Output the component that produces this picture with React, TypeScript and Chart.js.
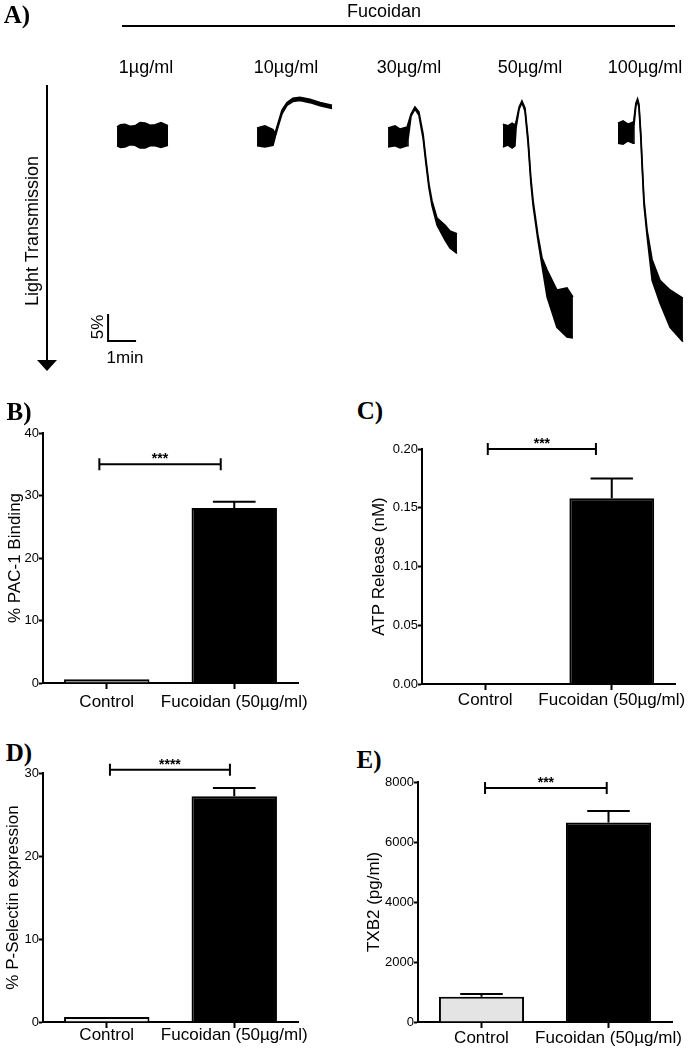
import React, { useEffect, useRef } from 'react';
import { Chart, registerables } from 'chart.js';

Chart.register(...registerables);

const FONT = "'Liberation Sans', Arial, Helvetica, sans-serif";
const SERIF = "'Liberation Serif', 'Times New Roman', serif";
Chart.defaults.color = '#000';
Chart.defaults.font.family = FONT;

// ---------- Panel A: aggregation traces (time in min, light transmission in %) ----------
const doseLabels = ['1µg/ml', '10µg/ml', '30µg/ml', '50µg/ml', '100µg/ml'];

const trace1Time = [4.18, 4.3, 4.46, 4.64, 4.82, 5.0, 5.18, 5.36, 5.54, 5.75, 6.0];
const trace1Upper = [-1.5, -1.9, -2.0, -1.6, -1.7, -2.3, -2.2, -1.8, -1.9, -2.3, -1.7];
const trace1Lower = [2.0, 2.3, 2.2, 1.8, 1.9, 2.4, 2.4, 2.0, 2.0, 2.3, 1.9];

const trace2Time = [9.18, 9.46, 9.75, 9.82, 9.93, 10.07, 10.25, 10.46, 10.71, 11.07, 11.43, 11.86];
const trace2Upper = [-1.3, -1.7, -1.0, -0.3, -2.2, -4.6, -6.0, -6.8, -7.0, -6.6, -6.0, -5.5];
const trace2Lower = [2.0, 2.2, 1.9, 0.5, -1.5, -3.9, -5.5, -6.2, -6.4, -6.0, -5.4, -4.9];

const trace3Time = [13.86, 14.11, 14.29, 14.54, 14.57, 14.68, 14.82, 14.96, 15.11, 15.21, 15.32, 15.43, 15.61, 15.89, 16.07, 16.32];
const trace3Upper = [-1.3, -1.7, -1.1, -1.5, -1.5, -3.9, -5.2, -4.3, -0.2, 4.4, 9.1, 12.2, 15.4, 16.7, 17.8, 18.3];
const trace3Lower = [2.2, 2.0, 2.4, 2.0, 0.9, -3.5, -4.8, -3.7, 0.6, 5.2, 9.8, 13.1, 16.7, 19.4, 20.9, 21.9];

const trace4Time = [17.96, 18.14, 18.29, 18.39, 18.43, 18.54, 18.64, 18.75, 18.86, 18.96, 19.04, 19.21, 19.36, 19.54, 19.89, 20.25, 20.46];
const trace4Upper = [-2.0, -1.7, -2.2, -1.85, -2.4, -5.2, -6.3, -5.0, 0.6, 8.0, 12.2, 18.5, 22.8, 25.0, 28.7, 28.3, 30.0];
const trace4Lower = [2.2, 1.85, 2.4, 2.0, -1.3, -4.8, -6.0, -4.4, 1.5, 8.9, 13.1, 19.4, 24.3, 30.0, 35.6, 37.4, 37.6];

const trace5Time = [22.07, 22.25, 22.43, 22.61, 22.64, 22.71, 22.77, 22.82, 22.89, 22.93, 23.0, 23.11, 23.29, 23.57, 23.93, 24.39];
const trace5Upper = [-2.2, -2.6, -2.0, -2.4, -2.8, -5.9, -6.7, -5.7, 0.0, 4.6, 12.0, 17.6, 23.1, 26.9, 28.7, 30.2];
const trace5Lower = [1.5, 1.7, 1.1, 1.5, -1.7, -5.4, -6.3, -5.1, 0.9, 5.6, 13.0, 18.7, 26.9, 31.1, 35.6, 38.3];

// scale bar: 1 min horizontal, 5 % vertical
const scaleBarMinutes = 1;
const scaleBarPercent = 5;

// ---------- Panels B–E: bar charts ----------
const categories = ['Control', 'Fucoidan (50µg/ml)'];

const pac1Values = [0.6, 28.0];
const pac1Errors = [0, 1.0];
const pac1Ticks = [0, 10, 20, 30, 40];

const atpValues = [0.0004, 0.158];
const atpErrors = [0, 0.017];
const atpTicks = [0, 0.05, 0.1, 0.15, 0.2];

const pselValues = [0.6, 27.2];
const pselErrors = [0, 1.0];
const pselTicks = [0, 10, 20, 30];

const txb2Values = [840, 6650];
const txb2Errors = [90, 380];
const txb2Ticks = [0, 2000, 4000, 6000, 8000];

function toPoints(t: number[], v: number[]) {
  return t.map((x, i) => ({ x, y: v[i] }));
}

function TracePanel() {
  const ref = useRef<HTMLCanvasElement>(null);
  useEffect(() => {
    const traces = [
      [trace1Time, trace1Upper, trace1Lower],
      [trace2Time, trace2Upper, trace2Lower],
      [trace3Time, trace3Upper, trace3Lower],
      [trace4Time, trace4Upper, trace4Lower],
      [trace5Time, trace5Upper, trace5Lower],
    ];
    const datasets: any[] = [];
    traces.forEach(([t, hi, lo]) => {
      datasets.push({ data: toPoints(t, hi), borderColor: '#000', backgroundColor: '#000', borderWidth: 1.6, fill: '+1', pointRadius: 0, tension: 0 });
      datasets.push({ data: toPoints(t, lo), borderColor: '#000', backgroundColor: '#000', borderWidth: 1.6, fill: false, pointRadius: 0, tension: 0 });
    });
    const scaleBar = {
      id: 'scaleBar',
      afterDatasetsDraw(chart: any) {
        const { ctx, scales } = chart;
        const x0 = scales.x.getPixelForValue(3.86);
        const x1 = scales.x.getPixelForValue(3.86 + scaleBarMinutes);
        const y0 = scales.y.getPixelForValue(38.15);
        const y1 = scales.y.getPixelForValue(38.15 - scaleBarPercent);
        ctx.save();
        ctx.strokeStyle = '#000';
        ctx.lineWidth = 2;
        ctx.beginPath();
        ctx.moveTo(x0, y1);
        ctx.lineTo(x0, y0);
        ctx.lineTo(x1, y0);
        ctx.stroke();
        ctx.restore();
      },
    };
    const chart = new Chart(ref.current!, {
      type: 'line',
      data: { datasets },
      options: {
        animation: false,
        responsive: false,
        devicePixelRatio: 1,
        layout: { padding: 0 },
        plugins: { legend: { display: false }, tooltip: { enabled: false } },
        scales: {
          x: { type: 'linear', min: 0, max: 25, display: false },
          y: { type: 'linear', min: -25, max: 45, reverse: true, display: false },
        },
      } as any,
      plugins: [scaleBar],
    });
    return () => chart.destroy();
  }, []);
  return <canvas ref={ref} width={700} height={378} style={{ position: 'absolute', left: 0, top: 0, width: 700, height: 378 }} />;
}

type BarProps = {
  left: number; top: number; width: number; height: number;
  padTop: number; padRight: number; yWidth: number; xHeight: number;
  values: number[]; errors: number[]; fills: string[];
  ticks: number[]; decimals: number; title: string;
  bracket: { from: number; to: number; level: number; text: string };
  labelPad: number;
};

function BarPanel(p: BarProps) {
  const ref = useRef<HTMLCanvasElement>(null);
  useEffect(() => {
    const deco = {
      id: 'deco',
      afterDatasetsDraw(chart: any) {
        const { ctx } = chart;
        const xs = chart.scales.x;
        const ys = chart.scales.y;
        const meta = chart.getDatasetMeta(0);
        ctx.save();
        ctx.strokeStyle = '#000';
        ctx.lineWidth = 2;
        meta.data.forEach((bar: any, i: number) => {
          const e = p.errors[i];
          if (!e) return;
          const base = ys.getPixelForValue(p.values[i]);
          const top = ys.getPixelForValue(p.values[i] + e);
          const w = bar.width * 0.5;
          ctx.beginPath();
          ctx.moveTo(bar.x, base);
          ctx.lineTo(bar.x, top);
          ctx.moveTo(bar.x - w / 2, top);
          ctx.lineTo(bar.x + w / 2, top);
          ctx.stroke();
        });
        const by = ys.getPixelForValue(p.bracket.level);
        const x1 = xs.getPixelForValue(p.bracket.from);
        const x2 = xs.getPixelForValue(p.bracket.to);
        ctx.beginPath();
        ctx.moveTo(x1, by); ctx.lineTo(x2, by);
        ctx.moveTo(x1, by - 6); ctx.lineTo(x1, by + 6);
        ctx.moveTo(x2, by - 6); ctx.lineTo(x2, by + 6);
        ctx.stroke();
        ctx.fillStyle = '#000';
        ctx.font = `bold 14px ${FONT}`;
        ctx.textAlign = 'center';
        ctx.textBaseline = 'alphabetic';
        ctx.fillText(p.bracket.text, (x1 + x2) / 2, by - 1);
        ctx.restore();
      },
    };
    const chart = new Chart(ref.current!, {
      type: 'bar',
      data: {
        labels: categories,
        datasets: [{
          data: p.values,
          backgroundColor: p.fills,
          borderColor: '#000',
          borderWidth: 2,
          categoryPercentage: 1,
          barPercentage: 0.67,
        }],
      },
      options: {
        animation: false,
        responsive: false,
        devicePixelRatio: 1,
        layout: { padding: { top: p.padTop, right: p.padRight, left: 0, bottom: 0 } },
        plugins: { legend: { display: false }, tooltip: { enabled: false } },
        scales: {
          x: {
            offset: true,
            grid: { display: true, drawOnChartArea: false, offset: false, tickLength: 6, tickWidth: 2, tickColor: '#000' },
            border: { display: true, color: '#000', width: 2 },
            ticks: { color: '#000', font: { family: FONT, size: 17 }, padding: p.labelPad, maxRotation: 0, autoSkip: false },
            afterFit: (s: any) => { s.height = p.xHeight; },
          },
          y: {
            min: 0,
            max: p.ticks[p.ticks.length - 1],
            grid: { display: true, drawOnChartArea: false, tickLength: 4, tickWidth: 2, tickColor: '#000' },
            border: { display: true, color: '#000', width: 2 },
            ticks: {
              color: '#000',
              font: { family: FONT, size: 13 },
              padding: 0,
              callback: (v: any) => Number(v).toFixed(p.decimals),
            },
            title: { display: true, text: p.title, color: '#000', font: { family: FONT, size: 17 }, padding: { top: 3, bottom: 0 } },
            afterFit: (s: any) => { s.width = p.yWidth; },
            afterBuildTicks: (s: any) => { s.ticks = p.ticks.map((v) => ({ value: v })); },
          },
        },
      } as any,
      plugins: [deco],
    });
    return () => chart.destroy();
  }, []);
  return (
    <canvas
      ref={ref}
      width={p.width}
      height={p.height}
      style={{ position: 'absolute', left: p.left, top: p.top, width: p.width, height: p.height }}
    />
  );
}

function Label(props: { x: number; y: number; text: string; size?: number; rotate?: boolean; weight?: string; family?: string }) {
  const { x, y, text, size = 18, rotate = false, weight = 'normal', family = FONT } = props;
  return (
    <div
      style={{
        position: 'absolute', left: x, top: y,
        transform: `translate(-50%, -50%)${rotate ? ' rotate(-90deg)' : ''}`,
        fontFamily: family, fontSize: size, fontWeight: weight as any, lineHeight: 1,
        whiteSpace: 'nowrap', color: '#000',
      }}
    >
      {text}
    </div>
  );
}

const doseX = [146, 286, 409, 530, 645];

export default function App() {
  return (
    <div style={{ position: 'absolute', left: 0, top: 0, width: 700, height: 1055, background: '#fff', overflow: 'hidden' }}>
      <TracePanel />
      <Label x={17} y={14} text="A)" size={25} weight="bold" family={SERIF} />
      <Label x={384} y={11} text="Fucoidan" size={18} />
      <div style={{ position: 'absolute', left: 122, top: 25, width: 553, height: 2, background: '#000' }} />
      {doseLabels.map((d, i) => (
        <Label key={d} x={doseX[i]} y={67} text={d} size={18} />
      ))}
      <div style={{ position: 'absolute', left: 46, top: 85, width: 2, height: 277, background: '#000' }} />
      <div style={{ position: 'absolute', left: 37, top: 360, width: 0, height: 0, borderLeft: '10px solid transparent', borderRight: '10px solid transparent', borderTop: '11px solid #000' }} />
      <Label x={32} y={231} text="Light Transmission" size={18} rotate />
      <Label x={97} y={327} text="5%" size={17} rotate />
      <Label x={125} y={357} text="1min" size={17} />

      <Label x={19} y={411} text="B)" size={25} weight="bold" family={SERIF} />
      <Label x={370} y={410} text="C)" size={25} weight="bold" family={SERIF} />
      <Label x={19} y={752} text="D)" size={25} weight="bold" family={SERIF} />
      <Label x={369} y={759} text="E)" size={25} weight="bold" family={SERIF} />

      <BarPanel
        left={2} top={415} width={343} height={313} padTop={18} padRight={47} yWidth={41} xHeight={45}
        values={pac1Values} errors={pac1Errors} fills={['#8f8f8f', '#000']}
        ticks={pac1Ticks} decimals={0} title="% PAC-1 Binding"
        bracket={{ from: -0.058, to: 0.894, level: 35, text: '***' }} labelPad={3}
      />
      <BarPanel
        left={366} top={425} width={334} height={304} padTop={24} padRight={25} yWidth={56} xHeight={45}
        values={atpValues} errors={atpErrors} fills={['#cfcfcf', '#000']}
        ticks={atpTicks} decimals={2} title="ATP Release (nM)"
        bracket={{ from: 0.02, to: 0.875, level: 0.2, text: '***' }} labelPad={0}
      />
      <BarPanel
        left={0} top={755} width={345} height={300} padTop={18} padRight={47} yWidth={43} xHeight={33}
        values={pselValues} errors={pselErrors} fills={['#f2f2f2', '#000']}
        ticks={pselTicks} decimals={0} title="% P-Selectin expression"
        bracket={{ from: 0.025, to: 0.966, level: 30.4, text: '****' }} labelPad={-3}
      />
      <BarPanel
        left={361} top={765} width={339} height={290} padTop={17} padRight={28} yWidth={57} xHeight={33}
        values={txb2Values} errors={txb2Errors} fills={['#e4e4e4', '#000']}
        ticks={txb2Ticks} decimals={0} title="TXB2 (pg/ml)"
        bracket={{ from: 0.028, to: 0.986, level: 7800, text: '***' }} labelPad={0}
      />
    </div>
  );
}
